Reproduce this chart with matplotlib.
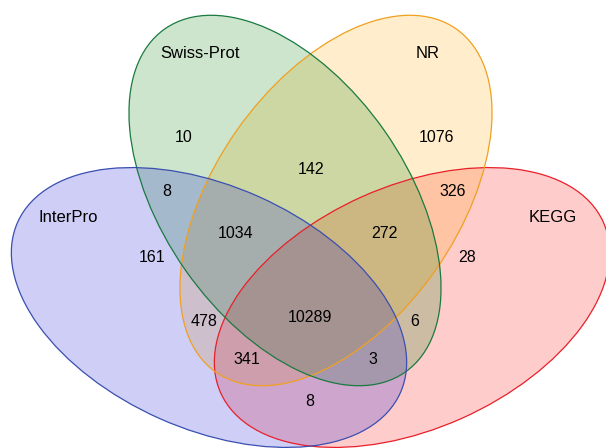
import matplotlib
matplotlib.use("Agg")
import matplotlib.pyplot as plt
from matplotlib.patches import Ellipse

plt.rcParams['font.family'] = ['Liberation Sans', 'DejaVu Sans']

# sets: name, fill colour, edge colour
set_names = ["Swiss-Prot", "NR", "InterPro", "KEGG"]
fill_colors = ["#008000", "#FFA500", "#0A0AD2", "#FF0000"]
edge_colors = ["#1a7a40", "#f0a020", "#3a4fb0", "#e8202a"]

# region counts
region_labels = ["10", "1076", "161", "28",
                 "142", "8", "326", "8", "6", "478",
                 "1034", "272", "341", "3",
                 "10289"]

# ellipse geometry in pixel coordinates (y pointing down)
centers = [(285, 200.5), (336, 200.5), (209, 307.5), (412, 307.5)]
angles = [55, -55, 24, -24]
ell_w, ell_h = 419, 243

name_pos = [(200, 53), (428, 53), (68, 218), (553, 218)]
region_pos = [(184, 138), (436, 138), (152, 258), (467, 258),
              (311, 170), (167, 191), (453, 192), (310, 402), (415, 322), (204, 322),
              (236, 233), (384, 233), (247, 360), (373, 360),
              (310, 318)]

fig = plt.figure(figsize=(6.06, 4.48), dpi=100)
ax = fig.add_axes([0, 0, 1, 1])
ax.set_xlim(0, 606)
ax.set_ylim(448, 0)
ax.axis('off')

# fills: KEGG first, then NR, Swiss-Prot, InterPro on top
for i in [3, 1, 0, 2]:
    ax.add_patch(Ellipse(centers[i], ell_w, ell_h, angle=angles[i],
                         facecolor=fill_colors[i], alpha=0.2, edgecolor='none'))
for i in [3, 1, 0, 2]:
    ax.add_patch(Ellipse(centers[i], ell_w, ell_h, angle=angles[i],
                         facecolor='none', edgecolor=edge_colors[i], linewidth=0.9))

for name, (x, y) in zip(set_names, name_pos):
    ax.text(x, y, name, ha='center', va='center', fontsize=12, color='black')

for lab, (x, y) in zip(region_labels, region_pos):
    ax.text(x, y, lab, ha='center', va='center', fontsize=11.5, color='black')

fig.savefig("out.png", dpi=100)
